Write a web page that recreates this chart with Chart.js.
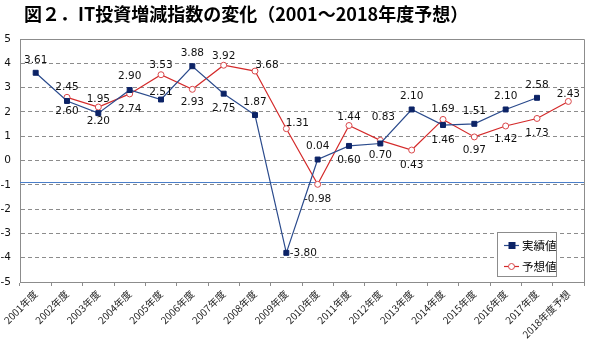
<!DOCTYPE html>
<html lang="ja">
<head>
<meta charset="utf-8">
<script src="https://cdn.jsdelivr.net/npm/chart.js@4/dist/chart.umd.min.js"></script>
<style>
    html, body { margin: 0; padding: 0; background: #fff; }
    #wrap { width: 590px; height: 348px; }
</style>
</head>
<body>
<div id="wrap"><canvas id="it-chart" width="590" height="348"></canvas></div>
<script>
// IT投資増減指数 (2001～2018)
const categories = ['2001年度', '2002年度', '2003年度', '2004年度', '2005年度', '2006年度',
    '2007年度', '2008年度', '2009年度', '2010年度', '2011年度', '2012年度', '2013年度',
    '2014年度', '2015年度', '2016年度', '2017年度', '2018年度予想'];
const actualValues = [3.61, 2.45, 1.95, 2.90, 2.51, 3.88, 2.75, 1.87, -3.80, 0.04,
    0.60, 0.70, 2.10, 1.46, 1.51, 2.10, 2.58, null];
const forecastValues = [null, 2.60, 2.20, 2.74, 3.53, 2.93, 3.92, 3.68, 1.31, -0.98,
    1.44, 0.83, 0.43, 1.69, 0.97, 1.42, 1.73, 2.43];
const seriesNames = ['実績値', '予想値'];
const yTicks = [-5, -4, -3, -2, -1, 0, 1, 2, 3, 4, 5];
const referenceLine = -0.9;

(function () {
    const canvas = document.getElementById('it-chart');
    if (!canvas || typeof Chart === 'undefined') return;

    const title = '図２．IT投資増減指数の変化（2001～2018年度予想）';
    const blue = '#2a4a8c';
    const navy = '#0c2366';
    const red = '#d42a2a';
    const grey = '#8c8c8c';
    const labelFont = '10.5px "DejaVu Sans", Verdana, sans-serif';

    // label offsets [dx, dy] from each point, hand placed like the original
    const actualLabelPos = [[0, -13], [0, -14], [0, -14], [0, -14], [0, -7], [0, -13], [0, 15],
        [0, -13], [17, 0], [0, -13], [0, 14], [0, 12], [0, -13], [0, 15], [0, -13], [0, -13], [0, -13], null];
    const forecastLabelPos = [null, [0, 14], [0, 14], [0, 15], [0, -9], [0, 13], [0, -9], [12, -6],
        [11, -5], [0, 15], [0, -8], [3, -23], [0, 15], [0, -10], [0, 13], [0, 13], [0, 15], [0, -7]];

    const decor = {
        id: 'decor',
        beforeDatasetsDraw(chart) {
            const { ctx, chartArea: a, scales } = chart;
            const y = Math.round(scales.y.getPixelForValue(referenceLine)) + 0.5;
            ctx.save();
            ctx.strokeStyle = '#4a7ec8';
            ctx.lineWidth = 1;
            ctx.beginPath();
            ctx.moveTo(a.left, y);
            ctx.lineTo(a.right, y);
            ctx.stroke();
            // top and right frame
            ctx.strokeStyle = grey;
            ctx.beginPath();
            ctx.moveTo(a.left, Math.round(a.top) + 0.5);
            ctx.lineTo(Math.round(a.right) + 0.5, Math.round(a.top) + 0.5);
            ctx.lineTo(Math.round(a.right) + 0.5, a.bottom);
            ctx.stroke();
            ctx.restore();
        },
        afterDatasetsDraw(chart) {
            const { ctx } = chart;
            ctx.save();
            ctx.font = labelFont;
            ctx.fillStyle = '#111';
            ctx.textAlign = 'center';
            ctx.textBaseline = 'middle';
            [actualLabelPos, forecastLabelPos].forEach((pos, di) => {
                const meta = chart.getDatasetMeta(di);
                const values = chart.data.datasets[di].data;
                meta.data.forEach((pt, i) => {
                    if (values[i] === null || !pos[i]) return;
                    ctx.fillText(values[i].toFixed(2), pt.x + pos[i][0], pt.y + pos[i][1]);
                });
            });

            // legend box inside the plot
            const bx = 497.5, by = 232.5, bw = 59, bh = 44;
            ctx.fillStyle = '#fff';
            ctx.fillRect(bx, by, bw, bh);
            ctx.strokeStyle = grey;
            ctx.strokeRect(bx, by, bw, bh);
            ctx.font = '11.5px "Noto Sans CJK JP", sans-serif';
            ctx.textAlign = 'left';
            [[blue, navy, 'rect', 245.5], [red, '#fff', 'circle', 266.5]].forEach((it, i) => {
                const [line, fill, shape, cy] = it;
                ctx.strokeStyle = line;
                ctx.lineWidth = 1.2;
                ctx.beginPath();
                ctx.moveTo(504, cy);
                ctx.lineTo(519, cy);
                ctx.stroke();
                ctx.fillStyle = fill;
                if (shape === 'rect') {
                    ctx.fillRect(508.5, cy - 3.5, 7, 7);
                } else {
                    ctx.beginPath();
                    ctx.arc(511.5, cy, 3, 0, Math.PI * 2);
                    ctx.fill();
                    ctx.strokeStyle = '#d9474a';
                    ctx.lineWidth = 1;
                    ctx.stroke();
                }
                ctx.fillStyle = '#000';
                ctx.fillText(seriesNames[i], 522, cy + 0.5);
            });
            ctx.restore();
        },
        afterDraw(chart) {
            const { ctx } = chart;
            ctx.save();
            ctx.font = 'bold 18px "Noto Sans CJK JP", sans-serif';
            ctx.fillStyle = '#000';
            ctx.textBaseline = 'middle';
            ctx.fillText(title, 24, 14);
            ctx.restore();
        },
    };

    new Chart(canvas, {
        type: 'line',
        data: {
            labels: categories,
            datasets: [{
                label: seriesNames[0],
                data: actualValues,
                borderColor: blue,
                borderWidth: 1.2,
                pointStyle: 'rect',
                pointRadius: 3.5,
                pointBackgroundColor: navy,
                pointBorderColor: navy,
                pointBorderWidth: 1,
                tension: 0,
            }, {
                label: seriesNames[1],
                data: forecastValues,
                borderColor: red,
                borderWidth: 1.2,
                pointStyle: 'circle',
                pointRadius: 3,
                pointBackgroundColor: '#fff',
                pointBorderColor: '#d9474a',
                pointBorderWidth: 1,
                tension: 0,
            }],
        },
        options: {
            responsive: false,
            animation: false,
            devicePixelRatio: 1,
            layout: { padding: { top: 39, right: 6, left: 0, bottom: 0 } },
            plugins: {
                legend: { display: false },
                tooltip: { enabled: false },
                title: { display: false },
            },
            scales: {
                x: {
                    offset: true,
                    afterFit: (s) => { s.height = 66; },
                    grid: { offset: true, drawOnChartArea: false, tickLength: 4, tickColor: grey },
                    border: { color: grey },
                    ticks: {
                        autoSkip: false,
                        minRotation: 45,
                        maxRotation: 45,
                        padding: 2,
                        color: '#222',
                        font: { family: '"Noto Sans CJK JP", sans-serif', size: 10 },
                    },
                },
                y: {
                    min: yTicks[0],
                    max: yTicks[yTicks.length - 1],
                    afterFit: (s) => { s.width = 20; },
                    afterBuildTicks: (s) => { s.ticks = yTicks.map((v) => ({ value: v })); },
                    grid: { color: grey, drawTicks: false },
                    border: { color: grey, dash: [4, 3] },
                    ticks: {
                        padding: 9,
                        color: '#111',
                        font: { family: '"DejaVu Sans", Verdana, sans-serif', size: 10.5 },
                    },
                },
            },
        },
        plugins: [decor],
    });
})();
</script>
</body>
</html>
